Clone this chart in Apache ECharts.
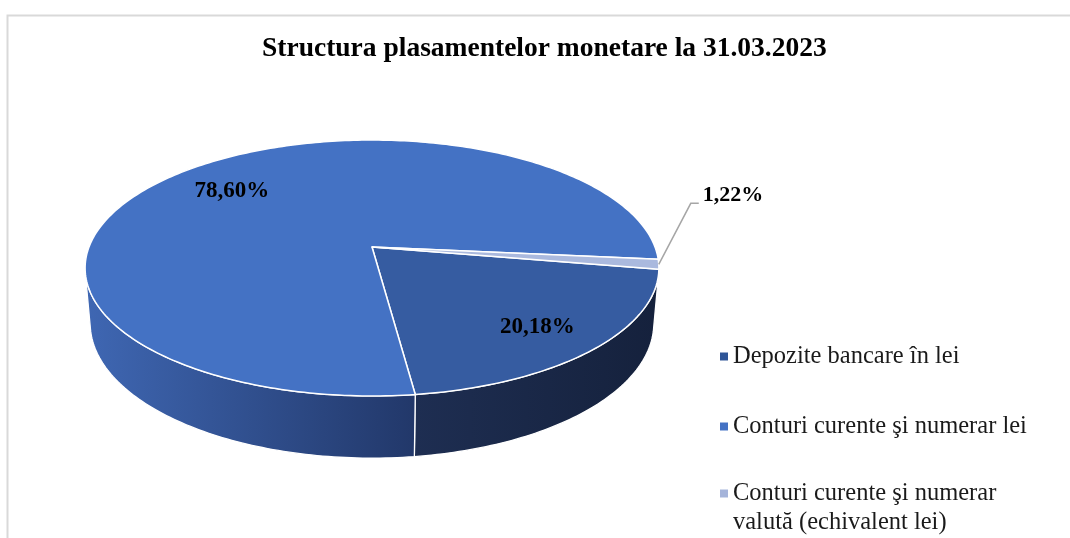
<!DOCTYPE html>
<html><head><meta charset="utf-8">
<script src="https://cdn.jsdelivr.net/npm/echarts@6/dist/echarts.min.js"></script>
<style>html,body{margin:0;padding:0;background:#fff}#c{width:1070px;height:538px}</style>
</head><body><div id="c"></div>
<script>
const chartTitle = 'Structura plasamentelor monetare la 31.03.2023';
const categories = ['Depozite bancare în lei', 'Conturi curente şi numerar lei', 'Conturi curente şi numerar valută (echivalent lei)'];
const shares = [20.18, 78.60, 1.22];

// styles
const legendColors = ['#2F5597', '#4472C4', '#A5B4DA'];
const topColors = ['#365CA1', '#4472C4', '#AAB9DE'];
const FONT = '"Liberation Serif", "Times New Roman", serif';

// 3D perspective projection of the pie
const sa = 0.44, ca = Math.sqrt(1 - sa * sa);
const CAM = { cx: 372, cy: 247, f: 1548, D: 5.47, H: 0.219, start: 10 };
const silh = Math.asin(1 / (CAM.D * ca)) * 180 / Math.PI;
const visLo = silh, visHi = 180 - silh;

function proj(deg, r, y) {
  const t = deg * Math.PI / 180;
  const x = r * Math.cos(t), z = r * Math.sin(t);
  const Y = z * sa - y * ca, Zd = z * ca + y * sa;
  const d = CAM.D - Zd;
  return [CAM.cx + CAM.f * x / d, CAM.cy + CAM.f * Y / d];
}
function arc(a1, a2, r, y) {
  const n = Math.max(2, Math.ceil(Math.abs(a2 - a1)));
  const pts = [];
  for (let k = 0; k <= n; k++) pts.push(proj(a1 + (a2 - a1) * k / n, r, y));
  return pts;
}
function wallFill(i) {
  if (i === 0) return new echarts.graphic.LinearGradient(414, 0, 660, 0, [{offset: 0, color: '#1E2E52'}, {offset: 1, color: '#15213C'}], true);
  if (i === 1) return new echarts.graphic.LinearGradient(85, 0, 414, 0, [{offset: 0, color: '#3F67B3'}, {offset: 1, color: '#22386A'}], true);
  return '#7F8FB8';
}
function fmt(v) { return v.toFixed(2).replace('.', ',') + '%'; }

const total = shares.reduce((a, b) => a + b, 0);

function makeRender(i) {
  return function (params, api) {
    const v = api.value(0);
    let before = 0;
    for (let j = 0; j < i; j++) before += shares[j];
    const a1 = CAM.start + before / total * 360;
    const a2 = a1 + v / total * 360;
    const children = [];
    // walls (front visible part)
    [-360, 0, 360].forEach(k => {
      const lo = Math.max(a1, visLo + k), hi = Math.min(a2, visHi + k);
      if (hi > lo) {
        const pts = arc(lo, hi, 1, 0).concat(arc(hi, lo, 1, -CAM.H));
        children.push({ type: 'polygon', shape: { points: pts }, z2: 10,
          style: { fill: wallFill(i), stroke: '#ffffff', lineWidth: 1.3, lineJoin: 'round' } });
      }
    });
    // top face
    const top = [proj(0, 0, 0)].concat(arc(a1, a2, 1, 0));
    children.push({ type: 'polygon', shape: { points: top }, z2: 100,
      style: { fill: topColors[i], stroke: '#ffffff', lineWidth: 1.5, lineJoin: 'round' } });
    // label
    const mid = (a1 + a2) / 2;
    const txt = fmt(v);
    if (v / total > 0.05) {
      const p = proj(mid, 0.76, 0);
      children.push({ type: 'text', z2: 200, style: { text: txt, x: p[0] + 2, y: p[1] + 5, fill: '#000',
        font: 'bold 23px ' + FONT, align: 'center', verticalAlign: 'middle', textAlign: 'center', textVerticalAlign: 'middle' } });
    } else {
      const e = proj(mid, 1, 0);
      const p1 = [e[0] + 32, e[1] - 61], p2 = [e[0] + 40, e[1] - 61];
      children.push({ type: 'polyline', z2: 150, shape: { points: [e, p1, p2] },
        style: { stroke: '#A6A6A6', lineWidth: 1.5, fill: null } });
      children.push({ type: 'text', z2: 200, style: { text: txt, x: p2[0] + 4, y: p2[1] - 8, fill: '#000',
        font: 'bold 22px ' + FONT, align: 'left', verticalAlign: 'middle', textAlign: 'left', textVerticalAlign: 'middle' } });
    }
    return { type: 'group', children };
  };
}

const chart = echarts.init(document.getElementById('c'), null, { renderer: 'canvas' });
chart.setOption({
  animation: false,
  backgroundColor: '#ffffff',
  title: {
    text: chartTitle, left: 257, top: 30,
    textStyle: { fontFamily: FONT, fontWeight: 'bold', fontSize: 27.5, color: '#000' }
  },
  graphic: [{
    type: 'rect', left: 5, top: 13, silent: true,
    shape: { width: 1100, height: 560 },
    style: { fill: 'none', stroke: '#D9D9D9', lineWidth: 2 }
  }],
  legend: [{
    orient: 'vertical', left: 715, top: 339, itemGap: 45,
    itemWidth: 8, itemHeight: 8, icon: 'rect',
    data: [categories[0], categories[1]],
    textStyle: { fontFamily: FONT, fontSize: 24.5, color: '#1a1a1a', lineHeight: 24 }
  }, {
    orient: 'vertical', left: 715, top: 445,
    itemWidth: 8, itemHeight: 8, icon: 'rect',
    data: [categories[2]],
    formatter: n => '\n' + n.replace(' valută', '\nvalută'),
    textStyle: { fontFamily: FONT, fontSize: 24.5, color: '#1a1a1a', lineHeight: 29 }
  }],
  series: categories.map((name, i) => ({
    type: 'custom', name, coordinateSystem: 'none',
    data: [[shares[i]]],
    itemStyle: { color: legendColors[i] },
    renderItem: makeRender(i)
  }))
});
</script>
</body></html>
